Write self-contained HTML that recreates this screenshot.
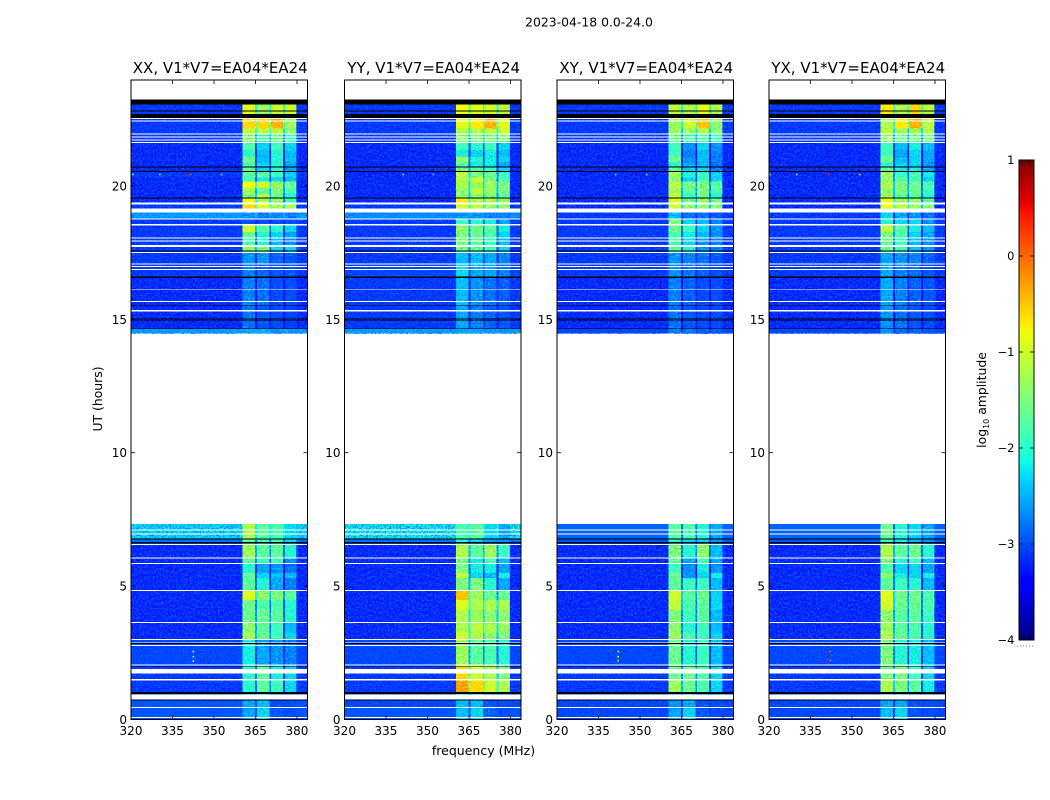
<!DOCTYPE html>
<html lang="en">
<head>
<meta charset="utf-8">
<title>2023-04-18 0.0-24.0</title>
<style>
html,body{margin:0;padding:0;background:#fff;}
body{width:1050px;height:800px;overflow:hidden;}
svg{display:block;}
text{font-family:"DejaVu Sans","Liberation Sans",sans-serif;fill:#000;}
</style>
</head>
<body>
<svg id="figure" xmlns="http://www.w3.org/2000/svg" width="1050" height="800" viewBox="0 0 1050 800">
<defs>
<filter id="speckle" x="0" y="0" width="1" height="1" color-interpolation-filters="sRGB">
<feTurbulence type="fractalNoise" baseFrequency="0.6" numOctaves="1" seed="4"/>
<feColorMatrix type="matrix" values="1.25 0 0 0 -0.12  1.25 0 0 0 -0.12  1.25 0 0 0 -0.12  0 0 0 0 1"/>
</filter>
<filter id="blue-speckle" x="0" y="0" width="1" height="1" color-interpolation-filters="sRGB">
<feTurbulence type="fractalNoise" baseFrequency="0.6" numOctaves="1" seed="9"/>
<feColorMatrix type="matrix" values="0 0 0 0 0  0 0 0 0 0.4  0 0 0 0 1  3 0 0 0 -1.2"/>
</filter>
<filter id="faint-speckle" x="0" y="0" width="1" height="1" color-interpolation-filters="sRGB">
<feTurbulence type="fractalNoise" baseFrequency="0.6" numOctaves="1" seed="15"/>
<feColorMatrix type="matrix" values="0 0 0 0 0  0 0 0 0 0.3  0 0 0 0 1  3.4 0 0 0 -1.2"/>
</filter>
</defs>
<rect width="1050" height="800" fill="#fff"/>
<text x="589" y="26.5" font-size="12.4" text-anchor="middle">2023-04-18 0.0-24.0</text>
<text transform="translate(102,399) rotate(-90)" font-size="12.4" text-anchor="middle">UT (hours)</text>
<text x="483.5" y="755" font-size="12.5" text-anchor="middle">frequency (MHz)</text>
<text transform="translate(986,400) rotate(-90)" font-size="12.4" text-anchor="middle">log<tspan font-size="8" dy="3">10</tspan><tspan dy="-3"> amplitude</tspan></text>
</svg>
<script>
const panelTitles = ["XX, V1*V7=EA04*EA24","YY, V1*V7=EA04*EA24","XY, V1*V7=EA04*EA24","YX, V1*V7=EA04*EA24"];
const xTickLabels = [320,335,350,365,380];
const yTickLabels = [0,5,10,15,20];
const colorbarTickLabels = [1,0,-1,-2,-3,-4];

// Frequency (MHz) of each spectral window: background, then four sub-bands
const backgroundSpan = [320,383.8];
const subBands = [[360.3,364.8],[365.6,370],[370.6,375],[375.7,379.8]];

// UT hour boundaries of the observed time rows (two observing blocks)
const utEdgesLate = [23.23,22.54,22.15,21.97,21.60,21.33,21.10,20.88,20.73,20.52,20.32,20.17,19.90,19.72,19.53,19.37,19.01,18.75,18.52,18.27,18.06,17.78,17.52,17.06,16.54,15.49,14.66,14.46];
const utEdgesEarly = [7.32,6.79,6.57,6.04,5.82,5.5,5.3,4.85,4.47,4.10,3.65,3.27,2.98,2.07,1.47,1.03,0.43,0];

// Flagged time ranges [UT start, UT end]
const flaggedEmpty = [[22.54,22.50],[22.46,22.42],[21.97,21.93],[21.85,21.82],[21.74,21.70],[21.64,21.60],[19.37,19.31],[19.16,19.01],[18.78,18.75],[18.57,18.52],[18.06,18.02],[17.96,17.92],[17.78,17.71],[17.52,17.48],[17.10,17.06],[16.99,16.96],[16.88,16.85],[16.12,16.09],[15.69,15.65],[15.34,15.30],[7.12,7.09],[6.97,6.94],[6.57,6.54],[6.07,6.04],[5.86,5.82],[4.85,4.81],[3.65,3.61],[3.01,2.98],[2.91,2.88],[2.80,2.76],[2.07,2.03],[1.90,1.72],[1.51,1.47],[0.93,0.757],[0.47,0.43],[0.09,0.056]];
const flaggedZero = [[23.23,23.05],[22.83,22.79],[22.70,22.54],[20.73,20.69],[20.55,20.52],[19.57,19.53],[17.58,17.55],[16.61,16.54],[15.52,15.49],[15.03,14.99],[14.96,14.93],[14.66,14.63],[6.79,6.75],[6.65,6.60],[2.87,2.83],[2.01,1.98],[1.03,0.955],[0.757,0.72]];

// log10 amplitude per time row: [background, band1, band2, band3, band4]
const xxLate = [[-3.2,-0.9,-1.3,-1.0,-1.0],[-3.2,-0.6,-0.6,-0.4,-1.3],[-3.2,-1.1,-1.1,-1.1,-1.4],[-3.2,-1.4,-1.8,-1.6,-1.9],[-3.3,-1.8,-2.2,-1.9,-2.2],[-3.3,-2.0,-2.3,-2.0,-2.3],[-3.3,-1.6,-2.3,-2.0,-2.3],[-3.3,-1.9,-2.2,-2.0,-2.4],[-3.3,-1.6,-2.2,-2.0,-2.4],[-3.2,-1.7,-1.7,-1.9,-2.2],[-3.3,-1.9,-2.1,-2.2,-2.3],[-3.3,-0.8,-1.0,-1.3,-1.6],[-3.3,-1.3,-1.7,-1.5,-1.8],[-3.3,-1.5,-1.2,-1.6,-2.0],[-3.3,-0.8,-1.2,-1.4,-1.9],[-3.2,-0.6,-0.9,-1.2,-1.2],[-2.5,-2.5,-2.6,-2.6,-2.6],[-3.2,-3.0,-3.0,-3.0,-3.0],[-3.2,-1.0,-1.7,-2.0,-2.2],[-3.2,-1.6,-2.0,-2.2,-2.4],[-3.2,-1.8,-2.0,-2.3,-2.5],[-3.2,-1.4,-1.5,-2.2,-2.2],[-3.2,-2.5,-2.5,-2.8,-2.9],[-3.2,-2.6,-2.8,-2.9,-2.9],[-3.3,-2.6,-2.7,-3.0,-3.0],[-3.3,-2.7,-2.9,-3.0,-3.1],[-2.5,-2.4,-2.4,-2.5,-2.5]];
const xxEarly = [[-2.2,-1.2,-1.7,-1.8,-2.2],[-2.8,-1.7,-1.9,-1.9,-2.2],[-3.3,-1.3,-1.7,-1.7,-2.0],[-3.3,-1.7,-1.9,-1.9,-2.5],[-3.3,-2.0,-2.4,-2.5,-2.7],[-3.3,-1.7,-2.2,-2.3,-2.3],[-3.3,-1.7,-2.0,-2.4,-2.6],[-3.3,-0.9,-1.4,-1.5,-1.7],[-3.3,-1.6,-1.8,-1.8,-2.0],[-3.3,-1.6,-1.6,-1.7,-2.0],[-3.3,-1.4,-1.7,-1.9,-2.3],[-3.3,-1.3,-1.6,-1.9,-2.2],[-3.1,-2.1,-2.4,-2.5,-2.6],[-3.2,-2.0,-1.7,-2.1,-2.2],[-3.2,-2.0,-1.7,-1.9,-2.2],[-3.0,-2.4,-2.3,-3.0,-3.0],[-3.0,-2.4,-2.2,-2.9,-3.0]];
const yyLate = [[-3.2,-0.8,-0.9,-1.0,-1.1],[-3.2,-0.9,-0.7,-0.4,-0.9],[-3.2,-1.2,-1.2,-1.1,-1.0],[-3.2,-1.4,-1.5,-1.5,-1.4],[-3.3,-1.9,-2.0,-1.9,-2.2],[-3.3,-2.1,-2.2,-2.1,-2.3],[-3.3,-1.4,-2.0,-2.1,-2.2],[-3.3,-1.8,-2.1,-2.1,-2.4],[-3.3,-1.5,-1.7,-1.9,-2.2],[-3.3,-1.1,-1.5,-1.6,-1.9],[-3.3,-1.2,-1.0,-1.5,-1.8],[-3.3,-1.2,-1.3,-1.3,-1.5],[-3.3,-1.4,-1.1,-1.3,-1.5],[-3.3,-1.4,-1.4,-1.5,-1.7],[-3.3,-0.7,-1.2,-1.2,-1.3],[-3.2,-1.0,-1.1,-1.3,-1.3],[-2.6,-2.5,-2.5,-2.6,-2.6],[-3.2,-1.9,-2.0,-2.1,-2.4],[-3.2,-1.4,-1.6,-1.7,-2.1],[-3.2,-1.5,-1.6,-1.8,-2.2],[-3.2,-1.5,-1.7,-1.9,-2.3],[-3.2,-1.6,-1.7,-1.9,-2.2],[-3.2,-2.3,-2.3,-2.4,-2.6],[-3.1,-2.2,-2.4,-2.4,-2.6],[-3.2,-2.3,-2.5,-2.7,-2.8],[-3.2,-2.4,-2.6,-2.8,-2.9],[-2.5,-2.4,-2.4,-2.5,-2.5]];
const yyEarly = [[-2.1,-1.8,-1.7,-2.2,-2.4],[-2.8,-2.0,-2.2,-2.4,-2.5],[-3.3,-1.2,-1.7,-1.3,-1.9],[-3.3,-1.5,-2.1,-1.8,-2.3],[-3.3,-1.5,-2.1,-2.1,-2.4],[-3.3,-1.1,-2.2,-2.3,-2.1],[-3.3,-1.5,-1.5,-2.0,-2.4],[-3.3,-0.5,-1.3,-1.6,-1.6],[-3.3,-0.9,-1.2,-1.2,-1.2],[-3.3,-1.2,-1.3,-1.4,-1.4],[-3.3,-1.2,-1.1,-1.2,-1.3],[-3.3,-1.0,-1.2,-1.4,-1.5],[-3.1,-1.3,-1.7,-1.8,-2.0],[-3.2,-0.6,-1.0,-1.2,-1.5],[-3.2,-0.3,-0.6,-1.0,-1.2],[-3.1,-2.3,-2.3,-2.9,-3.0],[-3.0,-2.3,-2.2,-2.8,-3.0]];
const xyLate = [[-3.2,-1.1,-1.2,-0.8,-1.2],[-3.2,-1.3,-1.0,-0.5,-1.4],[-3.2,-1.3,-1.3,-1.2,-1.4],[-3.2,-1.6,-1.8,-1.8,-1.9],[-3.3,-1.9,-2.5,-2.2,-2.5],[-3.3,-1.9,-2.6,-2.3,-2.6],[-3.3,-1.6,-2.5,-2.3,-2.6],[-3.3,-2.0,-2.4,-2.3,-2.7],[-3.3,-1.6,-2.2,-2.2,-2.6],[-3.3,-1.3,-2.0,-1.9,-2.2],[-3.3,-1.5,-2.2,-1.9,-2.2],[-3.3,-1.1,-1.5,-1.5,-1.7],[-3.3,-1.3,-1.7,-1.5,-1.8],[-3.3,-1.1,-1.9,-1.6,-2.0],[-3.3,-0.9,-1.6,-1.4,-1.6],[-3.3,-1.0,-1.4,-1.4,-1.4],[-3.2,-2.3,-2.7,-2.7,-2.9],[-3.2,-1.5,-2.2,-2.3,-2.6],[-3.2,-1.6,-1.9,-2.2,-2.5],[-3.2,-1.8,-2.1,-2.3,-2.5],[-3.2,-1.8,-2.2,-2.5,-2.6],[-3.2,-1.7,-2.0,-2.5,-2.6],[-3.2,-2.5,-2.6,-2.7,-2.9],[-3.2,-2.5,-2.7,-2.8,-3.0],[-3.3,-2.6,-2.8,-3.0,-3.0],[-3.3,-2.7,-2.9,-3.0,-3.0],[-3.1,-2.6,-2.7,-2.8,-2.9]];
const xyEarly = [[-2.9,-1.7,-1.8,-2.0,-2.4],[-3.0,-2.0,-2.2,-2.2,-2.5],[-3.3,-1.5,-2.0,-1.4,-2.3],[-3.3,-1.7,-2.4,-1.9,-2.4],[-3.3,-1.9,-2.5,-2.1,-2.5],[-3.3,-1.6,-2.5,-2.2,-2.1],[-3.3,-1.7,-1.9,-1.9,-2.3],[-3.3,-1.0,-1.7,-1.6,-2.2],[-3.3,-1.1,-1.8,-1.7,-2.2],[-3.3,-1.5,-1.9,-1.7,-2.3],[-3.3,-1.4,-2.0,-1.9,-2.3],[-3.3,-1.3,-1.8,-1.9,-2.2],[-3.1,-1.6,-2.0,-1.9,-2.3],[-3.2,-1.6,-1.6,-1.8,-2.2],[-3.2,-1.3,-1.6,-1.8,-2.2],[-3.1,-2.5,-2.4,-2.9,-3.0],[-3.1,-2.4,-2.2,-2.9,-3.0]];
const yxLate = [[-3.2,-0.7,-1.2,-0.6,-1.1],[-3.2,-1.2,-0.7,-0.4,-1.1],[-3.2,-1.1,-1.3,-1.3,-1.2],[-3.2,-1.4,-1.6,-1.6,-1.5],[-3.3,-1.9,-2.3,-2.1,-2.3],[-3.3,-1.9,-2.4,-2.2,-2.4],[-3.3,-1.6,-2.3,-2.2,-2.4],[-3.3,-2.0,-2.2,-2.2,-2.5],[-3.3,-1.6,-2.1,-2.1,-2.4],[-3.3,-1.3,-1.9,-1.8,-2.1],[-3.3,-1.4,-1.7,-1.9,-2.2],[-3.3,-1.2,-1.5,-1.6,-1.8],[-3.3,-1.4,-1.5,-1.6,-1.9],[-3.3,-1.3,-1.7,-1.7,-2.0],[-3.3,-0.8,-1.3,-1.4,-1.7],[-3.3,-0.8,-1.1,-1.3,-1.4],[-3.2,-2.2,-2.4,-2.5,-2.7],[-3.2,-2.0,-2.2,-2.2,-2.5],[-3.2,-1.1,-1.7,-2.1,-2.3],[-3.2,-1.5,-1.8,-2.2,-2.4],[-3.2,-1.6,-1.9,-2.3,-2.5],[-3.2,-1.6,-1.8,-2.3,-2.5],[-3.2,-2.4,-2.5,-2.6,-2.8],[-3.2,-2.4,-2.6,-2.7,-2.9],[-3.3,-2.4,-2.6,-2.8,-2.9],[-3.3,-2.5,-2.7,-2.9,-3.0],[-3.1,-2.5,-2.7,-2.8,-2.9]];
const yxEarly = [[-2.9,-1.6,-2.0,-2.2,-2.4],[-3.0,-1.9,-2.1,-2.3,-2.5],[-3.3,-1.2,-1.7,-1.6,-2.0],[-3.3,-1.5,-2.0,-1.9,-2.3],[-3.3,-1.8,-2.2,-2.2,-2.4],[-3.3,-1.4,-2.1,-2.2,-2.1],[-3.3,-1.7,-1.9,-2.0,-2.3],[-3.3,-0.9,-1.6,-1.6,-1.8],[-3.3,-1.0,-1.6,-1.6,-1.8],[-3.3,-1.4,-1.7,-1.7,-1.9],[-3.3,-1.3,-1.7,-1.8,-2.0],[-3.3,-1.2,-1.6,-1.8,-2.0],[-3.1,-1.5,-2.0,-2.1,-2.3],[-3.2,-1.5,-1.5,-1.9,-2.2],[-3.2,-1.2,-1.5,-1.7,-2.1],[-3.1,-2.4,-2.4,-2.9,-3.0],[-3.1,-2.3,-2.2,-2.9,-3.0]];

// Isolated interference spikes: [frequency MHz, UT hour, log10 amplitude]
const xxSpikes = [[320.8,20.42,-1.9],[330.5,20.42,-1.3],[341.6,20.42,0.1],[352.8,20.42,-0.3],[342.6,2.54,-1.0],[342.6,2.35,-0.7],[342.6,2.18,-0.7]];
const yySpikes = [[341.3,20.42,-1.6],[352.2,20.42,-1.9]];
const xySpikes = [[341.3,20.42,-1.7],[352.5,20.42,-1.8],[342.2,2.54,-0.8],[342.2,2.35,-0.8],[342.2,2.2,-0.6]];
const yxSpikes = [[320.4,20.42,-1.5],[330.1,20.42,-1.2],[341.7,20.42,0.3],[352.9,20.42,-0.6],[342.2,2.54,0.0],[342.2,2.2,0.0]];

// Layout and scales
const SVG_NS = "http://www.w3.org/2000/svg";
const figure = document.getElementById("figure");
const panelLefts = [131,344.5,557,769];
const panelWidth = 176.5;
const axisTop = 80;
const axisBottom = 719.5;
const utMax = 23.97;
const cbLeft = 1019, cbRight = 1034, cbTop = 160, cbBottom = 640;

function xScale(left, mhz){ return left + (mhz - backgroundSpan[0]) / (backgroundSpan[1] - backgroundSpan[0]) * panelWidth; }
function yScale(ut){ return axisBottom - ut / utMax * (axisBottom - axisTop); }
function cbScale(v){ return cbBottom - (v + 4) / 5 * (cbBottom - cbTop); }

function segment(stops, t){
  for (let i = 1; i < stops.length; i++){
    if (t <= stops[i][0]){
      const a = stops[i-1], b = stops[i];
      return a[1] + (b[1]-a[1]) * (t-a[0]) / (b[0]-a[0]);
    }
  }
  return stops[stops.length-1][1];
}
const jetR = [[0,0],[0.35,0],[0.66,1],[0.89,1],[1,0.5]];
const jetG = [[0,0],[0.125,0],[0.375,1],[0.64,1],[0.91,0],[1,0]];
const jetB = [[0,0.5],[0.11,1],[0.34,1],[0.65,0],[1,0]];
function jet(v){
  const t = Math.max(0, Math.min(1, (v + 4) / 5));
  return "rgb(" + Math.round(segment(jetR,t)*255) + "," + Math.round(segment(jetG,t)*255) + "," + Math.round(segment(jetB,t)*255) + ")";
}
function make(tag, parent, attrs){
  const el = document.createElementNS(SVG_NS, tag);
  for (const k in attrs) el.setAttribute(k, attrs[k]);
  parent.appendChild(el);
  return el;
}
function bandRect(parent, x0, x1, y0, y1, fill){
  return make("rect", parent, {x:x0, y:y0, width:x1-x0, height:y1-y0, fill:fill, "shape-rendering":"crispEdges"});
}

function drawBlock(group, left, edges, rows){
  rows.forEach(function(row, r){
    const yA = yScale(edges[r]);
    const yB = yScale(edges[r+1]);
    const bg = bandRect(group, left, left+panelWidth, yA, yB, jet(row[0]));
    
    
    subBands.forEach(function(band, b){
      if (b > 0){
        const gapValue = Math.max(row[0], (row[b] + row[b+1]) / 2 - 1.0);
        const gap = bandRect(group, xScale(left, subBands[b-1][1]), xScale(left, band[0]), yA, yB, jet(gapValue));
        
        
      }
      const cell = bandRect(group, xScale(left, band[0]), xScale(left, band[1]), yA, yB, jet(row[b+1]));
      
      
    });
  });
  const yTop = yScale(edges[0]);
  const yEnd = yScale(edges[edges.length-1]);
  const bandStart = xScale(left, subBands[0][0]);
  const bandEnd = xScale(left, subBands[3][1]);
  const texture = make("rect", group, {x:bandStart, y:yTop, width:bandEnd-bandStart, height:yEnd-yTop, fill:"#808080", filter:"url(#speckle)"});
  texture.style.mixBlendMode = "overlay";
  
  
  rows.forEach(function(row, r){
    subBands.forEach(function(band, b){
      const strength = Math.min(1, (-1.9 - row[b+1]) / 1.0);
      if (strength > 0){
        const faint = make("rect", group, {x:xScale(left, band[0]), y:yScale(edges[r]), width:xScale(left, band[1])-xScale(left, band[0]), height:yScale(edges[r+1])-yScale(edges[r]), fill:"#000", filter:"url(#faint-speckle)", opacity:strength});
        
        
      }
    });
  });
  const noiseLeft = make("rect", group, {x:left, y:yTop, width:bandStart-left, height:yEnd-yTop, fill:"#000", filter:"url(#blue-speckle)"});
  
  
  const noiseRight = make("rect", group, {x:bandEnd, y:yTop, width:left+panelWidth-bandEnd, height:yEnd-yTop, fill:"#000", filter:"url(#blue-speckle)"});
  
  
}

function drawPanel(index, late, early, spikes){
  const left = panelLefts[index];
  const right = left + panelWidth;
  const group = make("g", figure, {});
  
  
  group.style.isolation = "isolate";

  const paper = make("rect", group, {x:left, y:axisTop, width:panelWidth, height:axisBottom-axisTop, fill:"#fff"});
  
  

  drawBlock(group, left, utEdgesLate, late);
  drawBlock(group, left, utEdgesEarly, early);

  flaggedEmpty.forEach(function(f){
    const bar = bandRect(group, left, right, yScale(f[0]), yScale(f[1]), "#fff");
    
    
  });
  flaggedZero.forEach(function(f){
    const bar = bandRect(group, left, right, yScale(f[0]), yScale(f[1]), "#000");
    
    
  });

  spikes.forEach(function(s){
    const cx = xScale(left, s[0]);
    const cy = yScale(s[1]);
    const dot = make("rect", group, {x:cx-1, y:cy-1, width:1.6, height:1.6, fill:jet(s[2])});
    
    
  });

  const frame = make("rect", group, {x:left, y:axisTop, width:panelWidth, height:axisBottom-axisTop, fill:"none", stroke:"#000", "stroke-width":1});
  
  

  xTickLabels.forEach(function(v){
    const x = xScale(left, v);
    const t1 = make("line", group, {x1:x, x2:x, y1:axisBottom, y2:axisBottom-4, stroke:"#000", "stroke-width":0.8});
    
    
    const t2 = make("line", group, {x1:x, x2:x, y1:axisTop, y2:axisTop+4, stroke:"#000", "stroke-width":0.8});
    
    
    const label = make("text", group, {x:x, y:axisBottom+15.5, "font-size":12, "text-anchor":"middle"});
    label.textContent = v;
    
    
  });
  yTickLabels.forEach(function(v){
    const y = yScale(v);
    const t1 = make("line", group, {x1:left, x2:left+4, y1:y, y2:y, stroke:"#000", "stroke-width":0.8});
    
    
    const t2 = make("line", group, {x1:right, x2:right-4, y1:y, y2:y, stroke:"#000", "stroke-width":0.8});
    
    
    const label = make("text", group, {x:left-4, y:y+4.5, "font-size":12, "text-anchor":"end"});
    label.textContent = v;
    
    
  });

  const title = make("text", group, {x:left+panelWidth/2+1, y:73, "font-size":15, "text-anchor":"middle"});
  title.textContent = panelTitles[index];
  
  
}

drawPanel(0, xxLate, xxEarly, xxSpikes);
drawPanel(1, yyLate, yyEarly, yySpikes);
drawPanel(2, xyLate, xyEarly, xySpikes);
drawPanel(3, yxLate, yxEarly, yxSpikes);

function drawColorbar(){
  const group = make("g", figure, {});
  
  
  const steps = 240;
  for (let i = 0; i < steps; i++){
    const vA = -4 + 5 * i / steps;
    const vB = -4 + 5 * (i+1) / steps;
    const slice = bandRect(group, cbLeft, cbRight, cbScale(vB), cbScale(vA), jet((vA+vB)/2));
    
    
  }
  const frame = make("rect", group, {x:cbLeft, y:cbTop, width:cbRight-cbLeft, height:cbBottom-cbTop, fill:"none", stroke:"#000", "stroke-width":1});
  
  
  colorbarTickLabels.forEach(function(v){
    const y = cbScale(v);
    const t1 = make("line", group, {x1:cbLeft, x2:cbLeft+4, y1:y, y2:y, stroke:"#000", "stroke-width":0.8});
    
    
    const t2 = make("line", group, {x1:cbRight, x2:cbRight-4, y1:y, y2:y, stroke:"#000", "stroke-width":0.8});
    
    
    const label = make("text", group, {x:cbLeft-4.5, y:y+4, "font-size":11.5, "text-anchor":"end"});
    label.textContent = String(v).replace("-", "\u2212");
    
    
  });
  const hatchTop = make("line", group, {x1:cbLeft, x2:cbRight, y1:cbTop+2.5, y2:cbTop+2.5, stroke:"#000", "stroke-width":4, "stroke-dasharray":"1 2", opacity:0.7});
  
  
  const hatchBottom = make("line", group, {x1:cbLeft, x2:cbRight, y1:cbBottom-2.5, y2:cbBottom-2.5, stroke:"#000", "stroke-width":4, "stroke-dasharray":"1 2", opacity:0.7});
  
  
  const dots = make("line", group, {x1:cbLeft-2, x2:cbRight+1, y1:646, y2:646, stroke:"#777", "stroke-width":1, "stroke-dasharray":"1 2"});
  
  
}
drawColorbar();
</script>
</body>
</html>
